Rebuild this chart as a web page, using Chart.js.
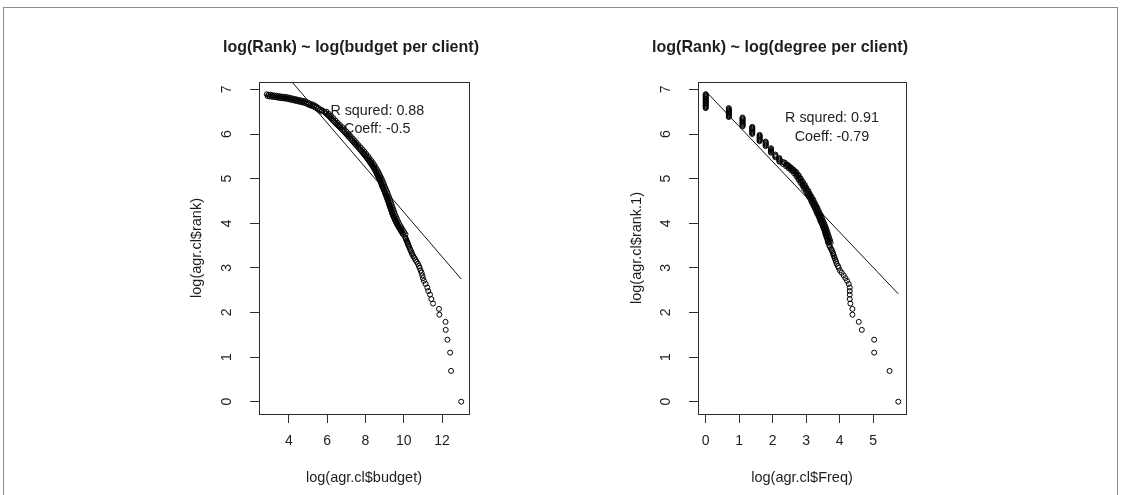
<!DOCTYPE html>
<html>
<head>
<meta charset="utf-8">
<script src="https://cdn.jsdelivr.net/npm/chart.js@4.4.1/dist/chart.umd.min.js"></script>
<style>
  html, body { margin: 0; padding: 0; background: #fff; }
  #wrap { position: relative; width: 1121px; height: 495px; overflow: hidden; background: #fff; }
  #frame { position: absolute; left: 3px; top: 7px; width: 1113px; height: 520px; border: 1px solid #8c8c8c; }
  canvas { position: absolute; top: 0; }
  #cBudget { left: 0; }
  #cFreq { left: 560px; }
</style>
</head>
<body>
<div id="wrap">
  <div id="frame"></div>
  <canvas id="cBudget" width="560" height="495"></canvas>
  <canvas id="cFreq" width="561" height="495"></canvas>
</div>
<script>
// ---- Left panel: log(rank) against log(budget per client) ----
const budgetTitle = 'log(Rank) ~ log(budget per client)';
const budgetXLabel = 'log(agr.cl$budget)';
const budgetYLabel = 'log(agr.cl$rank)';
const budgetXTicks = [4, 6, 8, 10, 12];
const budgetYTicks = [0, 1, 2, 3, 4, 5, 6, 7];

const budgetLogX = [
  // top-ranked clients
  13.00, 12.47, 12.42, 12.28, 12.19, 12.18, 11.86, 11.84, 11.53, 11.44,
  11.37, 11.28, 11.23, 11.14, 11.05, 11.00, 10.97, 10.93, 10.88, 10.83,
  10.79, 10.74, 10.67, 10.61, 10.56, 10.50, 10.45, 10.42, 10.38, 10.35,
  10.32, 10.28, 10.25, 10.22, 10.20, 10.18, 10.15, 10.12, 10.10, 10.07,
  // middle ranks
  9.97, 9.90, 9.83, 9.76, 9.69, 9.63, 9.57, 9.52, 9.47, 9.42,
  9.38, 9.34, 9.30, 9.26, 9.22, 9.18, 9.14, 9.10, 9.05, 9.01,
  8.96, 8.91, 8.86, 8.82, 8.77, 8.72, 8.66, 8.61, 8.55, 8.49,
  8.46, 8.42, 8.39, 8.35, 8.31, 8.27, 8.23, 8.19, 8.15, 8.10,
  8.06, 8.02, 7.97, 7.92, 7.88, 7.83, 7.78, 7.73, 7.68, 7.63,
  7.58, 7.52, 7.47, 7.42, 7.37, 7.32, 7.27, 7.22, 7.16, 7.11,
  7.06, 7.01, 6.95, 6.90, 6.84, 6.79, 6.73, 6.67, 6.61, 6.55,
  6.49, 6.43, 6.38, 6.32, 6.27, 6.21, 6.16, 6.10, 6.04, 5.97,
  5.91, 5.85,
  9.935, 9.865, 9.795, 9.725, 9.66, 9.60, 9.545, 9.495, 9.445, 9.40,
  9.36, 9.32, 9.28, 9.24, 9.20, 9.16, 9.12, 9.075, 9.03, 8.985,
  8.935, 8.885, 8.84, 8.795, 8.745, 8.69, 8.635, 8.58, 8.52,
  // middle ranks, second strand of the band
  10.09, 10.02, 9.95, 9.88, 9.81, 9.75, 9.69, 9.64, 9.59, 9.54,
  9.50, 9.46, 9.42, 9.38, 9.34, 9.30, 9.26, 9.22, 9.17, 9.13,
  9.08, 9.03, 8.98, 8.94, 8.89, 8.84, 8.78, 8.73, 8.67, 8.61,
  8.54, 8.47, 8.39, 8.31, 8.22, 8.14, 8.04, 7.95, 7.85, 7.75,
  7.64, 7.54, 7.44, 7.34, 7.23, 7.13, 7.02, 6.91, 6.79, 6.67,
  6.55, 6.44, 6.33, 6.22, 6.09, 5.97,
  // long tail of small budgets
  5.75, 5.65, 5.55, 5.45, 5.35, 5.25, 5.15, 5.05, 4.95, 4.85,
  4.75, 4.65, 4.55, 4.45, 4.35, 4.25, 4.15, 4.05, 3.95, 3.85,
  3.75, 3.65, 3.55, 3.45, 3.35, 3.25, 3.15, 3.05, 2.95, 2.85,
  5.70, 5.60, 5.50, 5.40, 5.30, 5.20, 5.10, 5.00, 4.90, 4.80,
  4.70, 4.60, 4.50, 4.40, 4.30, 4.20, 4.10, 4.00, 3.90, 3.80,
  3.70, 3.60, 3.50, 3.40, 3.30, 3.20, 3.10, 3.00, 2.90
];
const budgetRankLogY = [
  0.00, 0.69, 1.10, 1.39, 1.61, 1.79, 1.95, 2.08, 2.20, 2.30,
  2.40, 2.48, 2.56, 2.64, 2.71, 2.77, 2.83, 2.89, 2.94, 3.00,
  3.04, 3.09, 3.14, 3.18, 3.22, 3.26, 3.30, 3.33, 3.37, 3.40,
  3.43, 3.47, 3.50, 3.53, 3.56, 3.58, 3.61, 3.64, 3.66, 3.69,
  3.75, 3.80, 3.85, 3.90, 3.95, 4.00, 4.05, 4.10, 4.15, 4.20,
  4.25, 4.30, 4.35, 4.40, 4.45, 4.50, 4.55, 4.60, 4.65, 4.70,
  4.75, 4.80, 4.85, 4.90, 4.95, 5.00, 5.05, 5.10, 5.15, 5.20,
  5.225, 5.25, 5.275, 5.30, 5.325, 5.35, 5.375, 5.40, 5.425, 5.45,
  5.475, 5.50, 5.525, 5.55, 5.575, 5.60, 5.625, 5.65, 5.675, 5.70,
  5.725, 5.75, 5.775, 5.80, 5.825, 5.85, 5.875, 5.90, 5.925, 5.95,
  5.975, 6.00, 6.025, 6.05, 6.075, 6.10, 6.125, 6.15, 6.175, 6.20,
  6.225, 6.25, 6.275, 6.30, 6.325, 6.35, 6.375, 6.40, 6.425, 6.45,
  6.475, 6.50,
  3.775, 3.825, 3.875, 3.925, 3.975, 4.025, 4.075, 4.125, 4.175, 4.225,
  4.275, 4.325, 4.375, 4.425, 4.475, 4.525, 4.575, 4.625, 4.675, 4.725,
  4.775, 4.825, 4.875, 4.925, 4.975, 5.025, 5.075, 5.125, 5.175,
  3.75, 3.80, 3.85, 3.90, 3.95, 4.00, 4.05, 4.10, 4.15, 4.20,
  4.25, 4.30, 4.35, 4.40, 4.45, 4.50, 4.55, 4.60, 4.65, 4.70,
  4.75, 4.80, 4.85, 4.90, 4.95, 5.00, 5.05, 5.10, 5.15, 5.20,
  5.25, 5.30, 5.35, 5.40, 5.45, 5.50, 5.55, 5.60, 5.65, 5.70,
  5.75, 5.80, 5.85, 5.90, 5.95, 6.00, 6.05, 6.10, 6.15, 6.20,
  6.25, 6.30, 6.35, 6.40, 6.45, 6.50,
  6.53, 6.55, 6.58, 6.61, 6.64, 6.66, 6.67, 6.69, 6.71, 6.73,
  6.74, 6.75, 6.76, 6.77, 6.78, 6.79, 6.80, 6.81, 6.82, 6.83,
  6.83, 6.84, 6.84, 6.85, 6.86, 6.86, 6.87, 6.88, 6.88, 6.89,
  6.505, 6.53, 6.56, 6.59, 6.615, 6.63, 6.645, 6.665, 6.685, 6.70,
  6.71, 6.72, 6.73, 6.74, 6.75, 6.76, 6.77, 6.78, 6.79, 6.795,
  6.80, 6.805, 6.81, 6.82, 6.825, 6.83, 6.84, 6.84, 6.85
];
const budgetRSquared = 0.88;
const budgetCoeff = -0.5;
const budgetIntercept = 9.25;

// ---- Right panel: log(rank) against log(degree per client) ----
const freqTitle = 'log(Rank) ~ log(degree per client)';
const freqXLabel = 'log(agr.cl$Freq)';
const freqYLabel = 'log(agr.cl$rank.1)';
const freqXTicks = [0, 1, 2, 3, 4, 5];
const freqYTicks = [0, 1, 2, 3, 4, 5, 6, 7];

const freqLogX = [
  // best-connected clients
  5.75, 5.49, 5.03, 5.03, 4.66, 4.57, 4.38, 4.38, 4.32, 4.30,
  4.30, 4.30, 4.30, 4.27, 4.22, 4.17, 4.12, 4.06, 4.01, 3.97,
  3.95, 3.91, 3.89, 3.87, 3.85, 3.83, 3.81, 3.80, 3.78, 3.76,
  3.74, 3.71, 3.69,
  // middle degrees
  3.66, 3.66, 3.64, 3.64, 3.61, 3.61, 3.58, 3.58, 3.56, 3.56,
  3.53, 3.53, 3.50, 3.50, 3.47, 3.47, 3.43, 3.43, 3.40, 3.40,
  3.37, 3.37, 3.33, 3.33, 3.30, 3.30, 3.26, 3.26, 3.22, 3.22,
  3.18, 3.18, 3.14, 3.14, 3.09, 3.09, 3.04, 3.04, 3.00, 3.00,
  2.94, 2.94, 2.89, 2.89, 2.83, 2.83, 2.77, 2.77, 2.71, 2.71,
  2.64, 2.64, 2.56, 2.56, 2.48, 2.48, 2.40, 2.40, 2.30, 2.30,
  3.73, 3.71, 3.68, 3.65, 3.63, 3.60, 3.57, 3.54, 3.50, 3.47,
  3.44, 3.40, 3.37, 3.33, 3.29, 3.25, 3.21, 3.16, 3.11, 3.07,
  3.01, 2.96, 2.90, 2.84, 2.78, 2.71, 2.63, 2.55, 2.47, 2.37,
  3.695, 3.675, 3.645, 3.615, 3.595, 3.565, 3.535, 3.505, 3.465, 3.435,
  3.405, 3.365, 3.335, 3.295, 3.255, 3.215, 3.175, 3.125, 3.075, 3.035,
  2.975, 2.925, 2.865, 2.805, 2.745, 2.675, 2.595, 2.515, 2.435, 2.335,
  // low degrees: tied values stack in columns
  2.20, 2.20, 2.20, 2.20, 2.20,
  2.08, 2.08, 2.08, 2.08,
  1.95, 1.95, 1.95, 1.95, 1.95, 1.95,
  1.79, 1.79, 1.79, 1.79, 1.79, 1.79,
  1.61, 1.61, 1.61, 1.61, 1.61, 1.61, 1.61, 1.61,
  1.39, 1.39, 1.39, 1.39, 1.39, 1.39, 1.39, 1.39, 1.39,
  1.10, 1.10, 1.10, 1.10, 1.10, 1.10, 1.10, 1.10, 1.10, 1.10, 1.10,
  0.69, 0.69, 0.69, 0.69, 0.69, 0.69, 0.69, 0.69, 0.69, 0.69, 0.69,
  0, 0, 0, 0, 0, 0, 0, 0, 0, 0, 0, 0, 0, 0, 0, 0, 0
];
const freqRankLogY = [
  0.00, 0.69, 1.10, 1.39, 1.61, 1.79, 1.95, 2.08, 2.20, 2.30,
  2.40, 2.48, 2.56, 2.64, 2.71, 2.77, 2.83, 2.89, 2.94, 3.00,
  3.04, 3.09, 3.14, 3.18, 3.22, 3.26, 3.30, 3.33, 3.37, 3.40,
  3.43, 3.47, 3.50,
  3.56, 3.58, 3.61, 3.64, 3.68, 3.71, 3.74, 3.77, 3.80, 3.83,
  3.86, 3.89, 3.92, 3.95, 3.98, 4.01, 4.04, 4.07, 4.10, 4.13,
  4.16, 4.19, 4.21, 4.24, 4.27, 4.30, 4.33, 4.37, 4.39, 4.42,
  4.45, 4.48, 4.51, 4.55, 4.58, 4.61, 4.64, 4.67, 4.70, 4.74,
  4.77, 4.81, 4.84, 4.88, 4.91, 4.95, 4.98, 5.02, 5.05, 5.09,
  5.12, 5.16, 5.18, 5.21, 5.23, 5.26, 5.28, 5.31, 5.33, 5.37,
  3.57, 3.625, 3.695, 3.755, 3.815, 3.875, 3.935, 3.995, 4.055, 4.115,
  4.175, 4.225, 4.285, 4.35, 4.405, 4.465, 4.53, 4.595, 4.655, 4.72,
  4.79, 4.86, 4.93, 5.00, 5.07, 5.14, 5.195, 5.245, 5.295, 5.35,
  3.585, 3.64, 3.71, 3.77, 3.83, 3.89, 3.95, 4.01, 4.07, 4.13,
  4.19, 4.24, 4.30, 4.365, 4.42, 4.48, 4.545, 4.61, 4.67, 4.735,
  4.805, 4.875, 4.945, 5.015, 5.085, 5.155, 5.21, 5.26, 5.31, 5.365,
  5.38, 5.40, 5.42, 5.44, 5.46,
  5.48, 5.50, 5.52, 5.54,
  5.58, 5.60, 5.62, 5.64, 5.66, 5.68,
  5.73, 5.75, 5.77, 5.79, 5.81, 5.83,
  5.84, 5.86, 5.88, 5.90, 5.92, 5.94, 5.96, 5.98,
  6.00, 6.02, 6.04, 6.06, 6.08, 6.10, 6.12, 6.14, 6.16,
  6.17, 6.19, 6.21, 6.23, 6.25, 6.27, 6.29, 6.31, 6.33, 6.35, 6.37,
  6.38, 6.40, 6.42, 6.44, 6.46, 6.48, 6.50, 6.52, 6.54, 6.56, 6.58,
  6.58, 6.60, 6.62, 6.64, 6.66, 6.68, 6.70, 6.72, 6.74, 6.76, 6.78, 6.80, 6.82, 6.84, 6.86, 6.88, 6.89
];
const freqRSquared = 0.91;
const freqCoeff = -0.79;
const freqIntercept = 6.96;

// ---- shared look ----
const FONT = '"Liberation Sans", Arial, Helvetica, sans-serif';
const INK = '#1e1e1e';
const AXIS = '#2e2e2e';
const TICK_PX = 14;

// R-style axis range: data range widened by 4% on each side
function paddedRange(vals) {
  const lo = Math.min(...vals), hi = Math.max(...vals);
  const e = (hi - lo) * 0.04;
  return [lo - e, hi + e];
}

function drawPanel(canvasId, p) {
  const [xmin, xmax] = paddedRange(p.x);
  const [ymin, ymax] = paddedRange(p.y);
  const points = p.x.map((v, i) => ({ x: v, y: p.y[i] }));
  const fitEnds = [Math.min(...p.x), Math.max(...p.x)]
    .map(v => ({ x: v, y: p.intercept + p.coeff * v }));
  const noteLines = ['R squred: ' + p.rsq.toFixed(2), 'Coeff: ' + String(p.coeff)];

  // bold main title above the panel
  const mainTitle = {
    id: 'mainTitle',
    afterDraw(chart) {
      const { ctx } = chart;
      ctx.save();
      ctx.font = 'bold 17px ' + FONT;
      ctx.fillStyle = INK;
      ctx.textAlign = 'center';
      ctx.textBaseline = 'middle';
      ctx.fillText(p.title, p.titleX, 47, 256);
      ctx.restore();
    }
  };

  // frame around the plotting region
  const plotBox = {
    id: 'plotBox',
    afterDraw(chart) {
      const { ctx, chartArea: a } = chart;
      ctx.save();
      ctx.strokeStyle = AXIS;
      ctx.lineWidth = 1;
      ctx.strokeRect(Math.round(a.left) + 0.5, Math.round(a.top) + 0.5,
                     Math.round(a.right - a.left), Math.round(a.bottom - a.top));
      ctx.restore();
    }
  };

  // y tick labels written parallel to the axis
  const yTickLabels = {
    id: 'yTickLabels',
    afterDraw(chart) {
      const { ctx, chartArea: a } = chart;
      const s = chart.scales.y;
      ctx.save();
      ctx.font = TICK_PX + 'px ' + FONT;
      ctx.fillStyle = INK;
      ctx.textAlign = 'center';
      ctx.textBaseline = 'middle';
      s.ticks.forEach(t => {
        const py = s.getPixelForValue(t.value);
        ctx.save();
        ctx.translate(a.left - 31.5, py);
        ctx.rotate(-Math.PI / 2);
        ctx.fillText(String(t.value), 0, 0);
        ctx.restore();
      });
      ctx.restore();
    }
  };

  // fit summary placed in data coordinates
  const fitNote = {
    id: 'fitNote',
    afterDatasetsDraw(chart) {
      const { ctx } = chart;
      const px = chart.scales.x.getPixelForValue(p.noteAt.x);
      ctx.save();
      ctx.font = '14.3px ' + FONT;
      ctx.fillStyle = INK;
      ctx.textAlign = 'center';
      ctx.textBaseline = 'middle';
      noteLines.forEach((t, i) => {
        ctx.fillText(t, px, chart.scales.y.getPixelForValue(p.noteAt.y[i]));
      });
      ctx.restore();
    }
  };

  return new Chart(document.getElementById(canvasId), {
    type: 'scatter',
    data: {
      datasets: [
        {
          data: points,
          pointStyle: 'circle',
          pointRadius: 2.5,
          pointHoverRadius: 2.5,
          borderWidth: 1,
          borderColor: '#000',
          backgroundColor: 'rgba(0,0,0,0)',
          order: 1
        },
        {
          data: fitEnds,
          showLine: true,
          borderColor: '#111',
          borderWidth: 1,
          pointRadius: 0,
          fill: false,
          order: 0
        }
      ]
    },
    options: {
      responsive: false,
      animation: false,
      devicePixelRatio: 1,
      events: [],
      layout: { autoPadding: false, padding: { left: p.padLeft, right: p.padRight, top: 82, bottom: 0 } },
      plugins: {
        legend: { display: false },
        tooltip: { enabled: false },
        title: { display: false }
      },
      scales: {
        x: {
          type: 'linear',
          position: 'bottom',
          min: xmin,
          max: xmax,
          afterFit(s) { s.height = 81; },
          afterBuildTicks(s) { s.ticks = p.xTicks.map(v => ({ value: v })); },
          grid: { drawOnChartArea: false, drawTicks: true, tickLength: 9, color: AXIS, lineWidth: 1 },
          border: { display: true, color: AXIS, width: 1 },
          ticks: {
            color: INK,
            font: { family: FONT, size: TICK_PX, lineHeight: 1.2 },
            padding: 9.9,
            autoSkip: false,
            maxRotation: 0,
            minRotation: 0,
            callback: v => String(v)
          },
          title: {
            display: true,
            text: p.xLabel,
            color: INK,
            font: { family: FONT, size: 14.5, lineHeight: 1.2 },
            padding: { top: 0, bottom: 8.0 }
          }
        },
        y: {
          type: 'linear',
          position: 'left',
          min: ymin,
          max: ymax,
          afterFit(s) { s.width = 79; },
          afterBuildTicks(s) { s.ticks = p.yTicks.map(v => ({ value: v })); },
          grid: { drawOnChartArea: false, drawTicks: true, tickLength: 9, color: AXIS, lineWidth: 1 },
          border: { display: true, color: AXIS, width: 1 },
          ticks: { display: false },
          title: {
            display: true,
            text: p.yLabel,
            color: INK,
            font: { family: FONT, size: 14.5, lineHeight: 1.2 },
            padding: { top: p.yTitlePad, bottom: 0 }
          }
        }
      }
    },
    plugins: [plotBox, yTickLabels, fitNote, mainTitle]
  });
}

drawPanel('cBudget', {
  title: budgetTitle, xLabel: budgetXLabel, yLabel: budgetYLabel,
  xTicks: budgetXTicks, yTicks: budgetYTicks,
  x: budgetLogX, y: budgetRankLogY,
  rsq: budgetRSquared, coeff: budgetCoeff, intercept: budgetIntercept,
  noteAt: { x: 8.62, y: [6.51, 6.11] },
  titleX: 351,
  padLeft: 180, padRight: 91, yTitlePad: 8.3
});

drawPanel('cFreq', {
  title: freqTitle, xLabel: freqXLabel, yLabel: freqYLabel,
  xTicks: freqXTicks, yTicks: freqYTicks,
  x: freqLogX, y: freqRankLogY,
  rsq: freqRSquared, coeff: freqCoeff, intercept: freqIntercept,
  noteAt: { x: 3.77, y: [6.35, 5.93] },
  titleX: 220,
  padLeft: 59, padRight: 215, yTitlePad: 9.0
});
</script>
</body>
</html>
